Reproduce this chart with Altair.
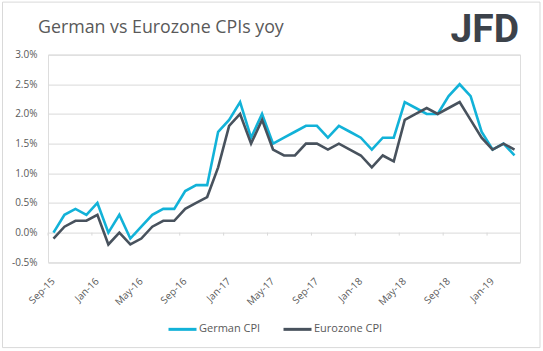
import altair as alt
import pandas as pd

months = ["Sep-15", "Oct-15", "Nov-15", "Dec-15",
          "Jan-16", "Feb-16", "Mar-16", "Apr-16", "May-16", "Jun-16",
          "Jul-16", "Aug-16", "Sep-16", "Oct-16", "Nov-16", "Dec-16",
          "Jan-17", "Feb-17", "Mar-17", "Apr-17", "May-17", "Jun-17",
          "Jul-17", "Aug-17", "Sep-17", "Oct-17", "Nov-17", "Dec-17",
          "Jan-18", "Feb-18", "Mar-18", "Apr-18", "May-18", "Jun-18",
          "Jul-18", "Aug-18", "Sep-18", "Oct-18", "Nov-18", "Dec-18",
          "Jan-19", "Feb-19", "Mar-19"]

german_cpi = [0.0, 0.3, 0.4, 0.3,
              0.5, 0.0, 0.3, -0.1, 0.1, 0.3, 0.4, 0.4, 0.7, 0.8, 0.8, 1.7,
              1.9, 2.2, 1.6, 2.0, 1.5, 1.6, 1.7, 1.8, 1.8, 1.6, 1.8, 1.7,
              1.6, 1.4, 1.6, 1.6, 2.2, 2.1, 2.0, 2.0, 2.3, 2.5, 2.3, 1.7,
              1.4, 1.5, 1.3]

eurozone_cpi = [-0.1, 0.1, 0.2, 0.2,
                0.3, -0.2, 0.0, -0.2, -0.1, 0.1, 0.2, 0.2, 0.4, 0.5, 0.6, 1.1,
                1.8, 2.0, 1.5, 1.9, 1.4, 1.3, 1.3, 1.5, 1.5, 1.4, 1.5, 1.4,
                1.3, 1.1, 1.3, 1.2, 1.9, 2.0, 2.1, 2.0, 2.1, 2.2, 1.9, 1.6,
                1.4, 1.5, 1.4]

series_names = ["German CPI", "Eurozone CPI"]
series_colors = ["#12b2d8", "#48525d"]
tick_labels = ["Sep-15", "Jan-16", "May-16", "Sep-16", "Jan-17", "May-17",
               "Sep-17", "Jan-18", "May-18", "Sep-18", "Jan-19"]
y_ticks = [-0.5, 0.0, 0.5, 1.0, 1.5, 2.0, 2.5, 3.0]

title_text = "German vs Eurozone CPIs yoy"
logo_text = "JFD"

FONT = "Open Sans"
GREY = "#595959"
GRID = "#d9d9d9"

df = pd.DataFrame({
    "month": months * 2,
    "series": [series_names[0]] * len(months) + [series_names[1]] * len(months),
    "value": german_cpi + eurozone_cpi,
    "order": [0] * len(months) + [1] * len(months),
})

x_scale = alt.Scale(domain=months, paddingInner=0, paddingOuter=0)
y_scale = alt.Scale(domain=[-0.5, 3.0], nice=False, zero=False)

x_axis = alt.Axis(values=tick_labels, title=None, labelAngle=-45,
                  labelAlign="right", labelBaseline="middle",
                  labelPadding=17, domain=False, ticks=False, grid=False,
                  labelOverlap=False,
                  labelFont=FONT, labelFontSize=10, labelColor=GREY)
y_axis = alt.Axis(values=y_ticks, title=None, domain=False, ticks=False,
                  grid=True, gridColor=GRID, gridWidth=1,
                  labelOverlap=False,
                  labelPadding=11, labelFont=FONT, labelFontSize=10,
                  labelColor=GREY,
                  labelExpr="(datum.value < 0 ? '-' : '') + format(abs(datum.value), '.1f') + '%'")

lines = alt.Chart(df).mark_line(strokeWidth=2.6, strokeJoin="miter").encode(
    x=alt.X("month:N", scale=x_scale, sort=months, axis=x_axis),
    y=alt.Y("value:Q", scale=y_scale, axis=y_axis),
    color=alt.Color("series:N",
                    scale=alt.Scale(domain=series_names, range=series_colors),
                    legend=alt.Legend(orient="none", legendX=119, legendY=259,
                                      direction="horizontal", title=None,
                                      symbolType="stroke", symbolSize=784,
                                      symbolStrokeWidth=3, labelOffset=1,
                                      columnPadding=16, labelFont=FONT,
                                      labelFontSize=11, labelColor=GREY)),
    order=alt.Order("order:Q"),
    detail="series:N",
)

ticks_df = pd.DataFrame({"month": tick_labels,
                         "value": [0.0] * len(tick_labels),
                         "y1": [-0.05] * len(tick_labels)})
tick_marks = alt.Chart(ticks_df).mark_rule(color=GRID, strokeWidth=1).encode(
    x=alt.X("month:N", scale=x_scale, sort=months, bandPosition=0, axis=x_axis),
    y=alt.Y("value:Q", scale=y_scale, axis=y_axis),
    y2="y1:Q",
)

one = pd.DataFrame({"t": [title_text], "logo": [logo_text]})

title = alt.Chart(one).mark_text(align="left", baseline="middle", font=FONT,
                                 fontSize=17.8, color=GREY).encode(
    text="t:N", x=alt.value(-10), y=alt.value(-26.5))

logo = alt.Chart(one).mark_text(align="right", baseline="alphabetic",
                                font="'Liberation Sans Narrow', Roboto, sans-serif",
                                fontWeight="bold", fontSize=39,
                                color="#3c424a").encode(
    text="logo:N", x=alt.value(471), y=alt.value(-12.5))

border = alt.Chart(one).mark_rect(fill=None, stroke=GRID, strokeWidth=1).encode(
    x=alt.value(-45.5), x2=alt.value(492), y=alt.value(-52.5), y2=alt.value(293))

chart = alt.layer(border, tick_marks, lines, title, logo).properties(
    width=472, height=207.7,
    autosize=alt.AutoSizeParams(type="none"),
    padding={"left": 48, "top": 54.6, "right": 23, "bottom": 88.7},
).configure_view(stroke=None).configure(background="white")

chart.save("out.html", embed_options={"renderer": "svg", "actions": False})
